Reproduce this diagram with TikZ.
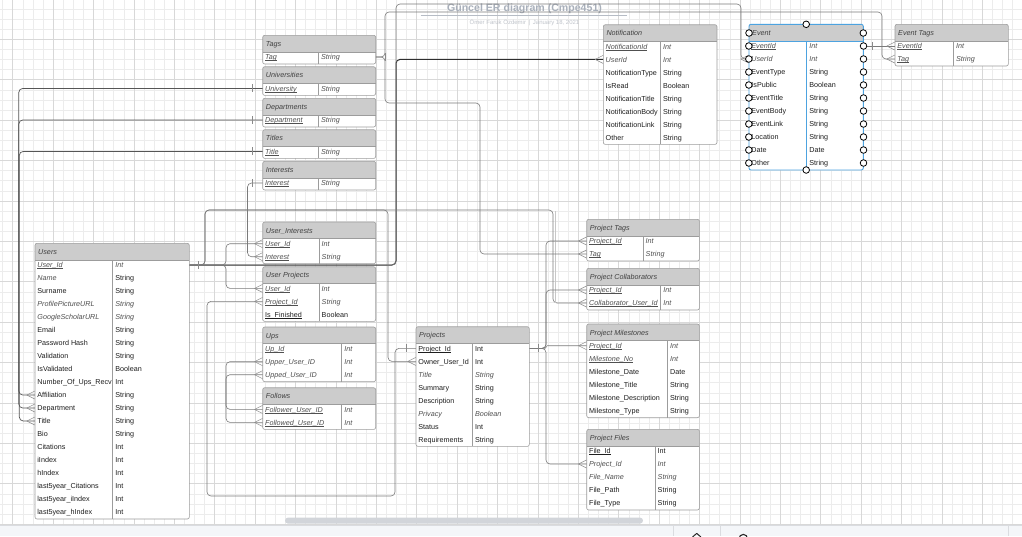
\documentclass[tikz,border=0pt]{standalone}
\usepackage{fontspec}
\setmainfont{Liberation Sans}
\usetikzlibrary{calc}

\definecolor{headgray}{HTML}{CCCCCC}
\definecolor{framegray}{HTML}{9C9C9C}
\definecolor{gridminor}{HTML}{ECECEC}
\definecolor{gridmajor}{HTML}{D8D8D8}
\definecolor{linkgray}{HTML}{7A7A7A}
\definecolor{linkmid}{HTML}{555555}
\definecolor{linkdark}{HTML}{2E2E2E}
\definecolor{footgray}{HTML}{8A8A8A}
\definecolor{selblue}{HTML}{4DA3E0}
\definecolor{titlegray}{HTML}{A9B0BB}
\definecolor{subgray}{HTML}{C0C4CB}
\definecolor{textdark}{HTML}{1E1E1E}
\definecolor{textsoft}{HTML}{505050}
\definecolor{headtext}{HTML}{404040}
\definecolor{barfill}{HTML}{F4F6F9}
\definecolor{barline}{HTML}{DADCE0}
\definecolor{scrollgray}{HTML}{D2D5DA}

% underline set just below the baseline
\newcommand\erul[1]{\setbox0\hbox{#1}\rlap{\rule[-1.2pt]{\wd0}{0.45pt}}\box0}
% key / type cell formats
\newcommand\erpk[1]{{\color{textsoft}\itshape\erul{#1}}}
\newcommand\erik[1]{{\color{textsoft}\itshape #1}}
\newcommand\eruk[1]{\erul{#1}}

\tikzset{
  tabframe/.style={draw=framegray, line width=0.6pt},
  tabtitle/.style={anchor=base west, inner sep=0pt, text=headtext, font=\fontsize{7.2}{8.6}\selectfont\itshape},
  tabrow/.style={rectangle, inner sep=0pt, minimum height=13pt},
  tabcell/.style={anchor=base west, inner sep=0pt, text=textdark},
  link/.style={draw=linkgray, line width=0.6pt, rounded corners=4pt},
  linkm/.style={draw=linkmid, line width=0.7pt, rounded corners=4pt},
  linkd/.style={draw=linkdark, line width=1pt, rounded corners=4pt},
  foot/.style={draw=footgray, line width=0.5pt},
  port/.style={circle, draw=black, fill=white, line width=0.8pt, inner sep=0pt, minimum size=6.6pt},
}

% one ER table: name, left, top, width, key column width, rows, title, key/type list
\newcommand\ertable[8]{%
  \pgfmathsetmacro\erhb{#3+16.7}%
  \pgfmathsetmacro\erbot{#3+16.7+13*#6-1}%
  \begin{scope}
    \clip[rounded corners=2pt] (#2,#3) rectangle ({#2+#4},\erbot);
    \fill[white] (#2,#3) rectangle ({#2+#4},\erbot);
    \fill[headgray] (#2,#3) rectangle ({#2+#4},\erhb);
  \end{scope}
  \draw[tabframe] (#2,\erhb) -- ({#2+#4},\erhb) ({#2+#5},\erhb) -- ({#2+#5},\erbot);
  \draw[tabframe, rounded corners=2pt] (#2,#3) rectangle ({#2+#4},\erbot);
  \node[tabtitle] (#1) at ({#2+3},{#3+11}) {#7};
  \foreach [count=\i] \erk/\ert in {#8} {
    \pgfmathsetmacro\ery{\erhb+5+13*(\i-1)}
    \node[tabrow, minimum width=#4pt] (#1-\i) at ({#2+#4/2},\ery) {};
    \node[tabcell] (#1-\i-k) at ({#2+2.2},{\ery+2.6}) {\erk};
    \node[tabcell] (#1-\i-t) at ({#2+#5+2.5},{\ery+2.6}) {\ert};
  }
}

% relationship ends
\newcommand\crowleft[1]{\draw[foot] ($(#1)+(-8,0)$) -- ($(#1)+(0,-4)$) ($(#1)+(-8,0)$) -- ($(#1)+(0,4)$);}
\newcommand\barleft[1]{\draw[foot] ($(#1)+(-10,-4)$) -- ($(#1)+(-10,4)$);}
\newcommand\barright[1]{\draw[foot] ($(#1)+(9,-4)$) -- ($(#1)+(9,4)$);}

\begin{document}
\begin{tikzpicture}[x=1pt, y=-1pt, font=\fontsize{7.2}{8.6}\selectfont]
\useasboundingbox (0,0) rectangle (1022,536);
\fill[white] (0,0) rectangle (1022,536);

% canvas grid
\begin{scope}
\clip (0,0) rectangle (1022,525);
\foreach \gi in {0,...,101} {\draw[gridminor, line width=0.5pt] ({2.6+10.1*\gi},0) -- ({2.6+10.1*\gi},525);}
\foreach \gi in {0,...,52} {\draw[gridminor, line width=0.5pt] (0,{-1.1+10.1*\gi}) -- (1022,{-1.1+10.1*\gi});}
\foreach \gi in {0,...,25} {\draw[gridmajor, line width=0.6pt] ({12.7+40.4*\gi},0) -- ({12.7+40.4*\gi},525);}
\foreach \gi in {0,...,13} {\draw[gridmajor, line width=0.6pt] (0,{-1.1+40.4*\gi}) -- (1022,{-1.1+40.4*\gi});}
\end{scope}

% heading
\node[font=\bfseries\fontsize{10.6}{12}\selectfont, text=titlegray, inner sep=0pt] (title) at (524.5,8.6) {Güncel ER diagram (Cmpe451)};
\draw[titlegray!85, line width=0.6pt] (420.7,15.7) -- (627.3,15.7);
\node[font=\fontsize{6}{7}\selectfont, text=subgray, inner sep=0pt] (subtitle) at (524.5,23) {Ömer Faruk Özdemir \,|\, January 18, 2021};

% tables
\ertable{tags}{262.7}{35.3}{113}{55.6}{1}{Tags}{\erpk{Tag}/\erik{String}}
\ertable{universities}{262.7}{66.7}{113}{55.6}{1}{Universities}{\erpk{University}/\erik{String}}
\ertable{departments}{262.7}{98.3}{113}{55.6}{1}{Departments}{\erpk{Department}/\erik{String}}
\ertable{titles}{262.7}{129.7}{113}{55.6}{1}{Titles}{\erpk{Title}/\erik{String}}
\ertable{interests}{262.7}{161.3}{113}{55.6}{1}{Interests}{\erpk{Interest}/\erik{String}}

\ertable{notif}{603.3}{24.7}{113.7}{57}{8}{Notification}{%
  \erpk{NotificationId}/\erik{Int}, \erik{UserId}/\erik{Int}, NotificationType/String,
  IsRead/Boolean, NotificationTitle/String, NotificationBody/String,
  NotificationLink/String, Other/String}

\begin{scope}[tabframe/.style={draw=selblue, line width=0.9pt}]
\ertable{event}{749}{24.3}{114.3}{57.7}{10}{Event}{%
  \erpk{EventId}/\erik{Int}, \erik{UserId}/\erik{Int}, EventType/String, IsPublic/Boolean,
  EventTitle/String, EventBody/String, EventLink/String, Location/String, Date/Date, Other/String}
\end{scope}

\ertable{evtags}{895}{24.3}{113.3}{58.3}{2}{Event Tags}{\erpk{EventId}/\erik{Int}, \erpk{Tag}/\erik{String}}

\ertable{users}{35}{243.3}{154.3}{77.7}{20}{Users}{%
  \erpk{User\_Id}/\erik{Int}, \erik{Name}/String, Surname/String,
  \erik{ProfilePictureURL}/\erik{String}, \erik{GoogleScholarURL}/\erik{String},
  Email/String, Password Hash/String, Validation/String, IsValidated/Boolean,
  Number\_Of\_Ups\_Recv/Int, Affiliation/String, Department/String, Title/String,
  Bio/String, Citations/Int, iIndex/Int, hIndex/Int, last5year\_Citations/Int,
  last5year\_iIndex/Int, last5year\_hIndex/Int}

\ertable{userint}{262.7}{222}{113}{56.3}{2}{User\_Interests}{\erpk{User\_Id}/\erik{Int}, \erpk{Interest}/\erik{String}}
\ertable{userproj}{262.7}{266.7}{113}{56.3}{3}{User Projects}{\erpk{User\_Id}/\erik{Int}, \erpk{Project\_Id}/\erik{String}, \eruk{Is\_Finished}/Boolean}
\ertable{ups}{262.7}{327}{113}{79}{3}{Ups}{\erpk{Up\_Id}/\erik{Int}, \erik{Upper\_User\_ID}/\erik{Int}, \erik{Upped\_User\_ID}/\erik{Int}}
\ertable{follows}{262.7}{387.7}{113}{79}{2}{Follows}{\erpk{Follower\_User\_ID}/\erik{Int}, \erpk{Followed\_User\_ID}/\erik{Int}}

\ertable{projects}{416}{326.7}{113.3}{56.3}{8}{Projects}{%
  \eruk{Project\_Id}/Int, Owner\_User\_Id/Int, \erik{Title}/\erik{String}, Summary/String,
  Description/String, \erik{Privacy}/\erik{Boolean}, Status/Int, Requirements/String}

\ertable{projtags}{586.7}{219.3}{112.7}{56.3}{2}{Project Tags}{\erpk{Project\_Id}/\erik{Int}, \erpk{Tag}/\erik{String}}
\ertable{projcol}{586.7}{268.3}{112.7}{74}{2}{Project Collaborators}{\erpk{Project\_Id}/\erik{Int}, \erpk{Collaborator\_User\_Id}/\erik{Int}}
\ertable{projms}{586.7}{324}{112.7}{80.7}{6}{Project Milestones}{%
  \erpk{Project\_Id}/\erik{Int}, \erpk{Milestone\_No}/\erik{Int}, Milestone\_Date/Date,
  Milestone\_Title/String, Milestone\_Description/String, Milestone\_Type/String}
\ertable{projfiles}{586.7}{429.3}{112.7}{68.3}{5}{Project Files}{%
  \eruk{File\_Id}/Int, \erik{Project\_Id}/\erik{Int}, \erik{File\_Name}/\erik{String},
  File\_Path/String, File\_Type/String}

% relationships: lookup tables to Users
\draw[linkm] (universities-1.west) -| ([xshift=-16pt]users-11.west) -- (users-11.west);
\draw[linkm] (departments-1.west) -| ([xshift=-16pt]users-12.west) -- (users-12.west);
\draw[linkm] (titles-1.west) -| ([xshift=-15.5pt]users-13.west) -- (users-13.west);
\draw[link] (interests-1.west) -- ++(-15,0) |- (userint-2.west);

% relationships from Users.User_Id
\draw[linkd] (users-1.east) -| (396,0 |- notif-2.west) -- (notif-2.west);
\draw[link] (users-1.east) -| (396,4) -| (741,0 |- event-2.west) -- (event-2.west);
\draw[link] (users-1.east) -| (205,210) -| (388,0 |- projects-2.west) -- (projects-2.west);
\draw[link] (users-1.east) -| (205,210) -| (553,0 |- projcol-2.west) -- (projcol-2.west);
\draw[draw=black!22, line width=1.4pt] (555.2,0 |- users-1.east) ++(0,-54) -- (555.2,0 |- projcol-2.west);
\draw[link] (users-1.east) -| (226,0 |- userint-1.west) -- (userint-1.west);
\draw[link] (users-1.east) -| (226,0 |- userproj-1.west) -- (userproj-1.west);
\draw[link] (ups-2.west) -| (226,0 |- follows-2.west) -- (follows-2.west);
\draw[link] (ups-3.west) -| (226,0 |- follows-1.west) -- (follows-1.west);

% relationships from Projects.Project_Id
\draw[link] (projects-1.west) -| (395,496) -| (207,0 |- userproj-2.west) -- (userproj-2.west);
\draw[link] (projects-1.east) -| (546,0 |- projtags-1.west) -- (projtags-1.west);
\draw[link] (projects-1.east) -| (546,0 |- projcol-1.west) -- (projcol-1.west);
\draw[link, rounded corners=1pt] (projects-1.east) -| (546,0 |- projms-1.west) -- (projms-1.west);
\draw[link] (projects-1.east) -| (546,0 |- projfiles-2.west) -- (projfiles-2.west);

% relationships from Tags and Event
\draw[link] (tags-1.east) -| (385,12) -| (882,0 |- evtags-2.west) -- (evtags-2.west);
\draw[link] (tags-1.east) -| (385,103) -| (480,0 |- projtags-2.west) -- (projtags-2.west);
\draw[link] (event-1.east) -- (evtags-1.west);

% crow's feet (many) and bars (one)
\foreach \nm in {users-11, users-12, users-13, userint-1, userint-2, userproj-1, userproj-2,
  ups-2, ups-3, follows-1, follows-2, notif-2, event-2, projects-2, projtags-1, projtags-2,
  projcol-1, projcol-2, projms-1, projfiles-2, evtags-1, evtags-2} {\crowleft{\nm.west}}
\foreach \nm in {universities-1, departments-1, titles-1, interests-1, projects-1} {\barleft{\nm.west}}
\foreach \nm in {users-1, tags-1, event-1, projects-1} {\barright{\nm.east}}

% connection points of the selected Event table
\node[port] (event-pl0) at (749,33) {};
\node[port] (event-pr0) at (863.3,33) {};
\foreach \r in {1,...,10} {
  \node[port] (event-pl\r) at (event-\r.west) {};
  \node[port] (event-pr\r) at (event-\r.east) {};
}
\node[port] (event-ptop) at (806.2,24.3) {};
\node[port] (event-pbot) at (806.2,170) {};

% editor scrollbar and toolbar
\fill[scrollgray, rounded corners=3pt] (285,517.6) rectangle (643,523.6);
\fill[barfill] (0,525) rectangle (1022,536);
\draw[barline, line width=0.6pt] (0,525) -- (1022,525);
\draw[barline, line width=0.6pt] (673.3,525) -- (673.3,536) (720.7,525) -- (720.7,536) (1008.3,525) -- (1008.3,536);
\draw[black!85, line width=1pt, line join=round] (692.5,537) -- (696.7,533.4) -- (700.9,537);
\draw[black!85, line width=1.1pt] (743.3,538.6) circle (4.2);
\end{tikzpicture}
\end{document}
